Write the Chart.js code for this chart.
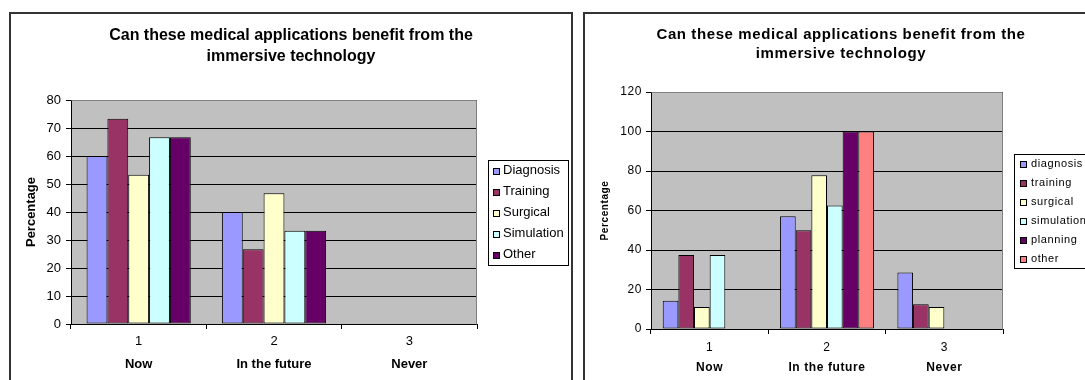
<!DOCTYPE html>
<html>
<head>
<meta charset="utf-8">
<script src="https://cdn.jsdelivr.net/npm/chart.js@4.4.1/dist/chart.umd.min.js"></script>
<style>
  html, body { margin: 0; padding: 0; background: #fff; width: 1085px; height: 380px; overflow: hidden; }
  .frame { position: absolute; border: 2px solid #333; height: 400px; }
  #f1 { left: 9px; top: 12px; width: 560px; }
  #f2 { left: 583px; top: 12px; width: 520px; }
  canvas { position: absolute; left: 0; top: 0; }
</style>
</head>
<body>
<div class="frame" id="f1"><canvas id="chart1" width="560" height="370"></canvas></div>
<div class="frame" id="f2"><canvas id="chart2" width="512" height="370"></canvas></div>
<script>
const title = ['Can these medical applications benefit from the', 'immersive technology'];
const categories = ['1', '2', '3'];
const answers = ['Now', 'In the future', 'Never'];
const colors = ['#9999FF', '#993366', '#FFFFCC', '#CCFFFF', '#660066', '#FF8080'];

// left chart
const seriesLeft = ['Diagnosis', 'Training', 'Surgical', 'Simulation', 'Other'];
const diagnosisL = [60, 40, 0];
const trainingL = [73.3, 26.7, 0];
const surgicalL = [53.3, 46.7, 0];
const simulationL = [66.7, 33.3, 0];
const otherL = [66.7, 33.3, 0];
const colorsLeft = [colors[0], colors[1], colors[2], colors[3], colors[4]];

// right chart
const seriesRight = ['diagnosis', 'training', 'surgical', 'simulation', 'planning', 'other'];
const diagnosisR = [14.3, 57.1, 28.6];
const trainingR = [37.5, 50, 12.5];
const surgicalR = [11.1, 77.8, 11.1];
const simulationR = [37.5, 62.5, 0];
const planningR = [0, 100, 0];
const otherR = [0, 100, 0];

Chart.defaults.font.family = '"Liberation Sans", Arial, sans-serif';
Chart.defaults.color = '#000';

const plotArea = {
  id: 'plotArea',
  beforeDraw(chart) {
    const { ctx, chartArea: a } = chart;
    ctx.save();
    ctx.fillStyle = '#C0C0C0';
    ctx.fillRect(a.left, a.top, a.right - a.left, a.bottom - a.top);
    ctx.restore();
  },
  beforeDatasetsDraw(chart) {
    const { ctx, chartArea: a } = chart;
    const l = Math.round(a.left) + 0.5, t = Math.round(a.top) + 0.5;
    const r = Math.round(a.right) - 0.5, b = Math.round(a.bottom) + 0.5;
    ctx.save();
    ctx.strokeStyle = '#808080';
    ctx.lineWidth = 1;
    ctx.beginPath();
    ctx.moveTo(l, t);
    ctx.lineTo(r, t);
    ctx.lineTo(r, b);
    ctx.stroke();
    ctx.restore();
  }
};

// framed legend like the spreadsheet one
const boxLegend = {
  id: 'boxLegend',
  afterDraw(chart, args, o) {
    const { ctx, chartArea: a } = chart;
    const items = chart.data.datasets;
    const h = items.length * o.rowH;
    const x = Math.round(a.right + o.gap);
    const y = Math.round((a.top + a.bottom) / 2 - h / 2);
    ctx.save();
    ctx.strokeStyle = '#000';
    ctx.lineWidth = 1;
    ctx.strokeRect(x + 0.5, y + 0.5, o.width, h);
    ctx.font = o.font;
    ctx.textBaseline = 'middle';
    ctx.textAlign = 'left';
    items.forEach((ds, i) => {
      const cy = y + o.rowH * (i + 0.5);
      const bx = x + o.boxLeft + 0.5, by = Math.round(cy - o.box / 2) + 0.5;
      ctx.fillStyle = ds.backgroundColor;
      ctx.fillRect(bx, by, o.box, o.box);
      ctx.strokeRect(bx, by, o.box, o.box);
      ctx.fillStyle = '#000';
      ctx.fillText(ds.label, x + o.textLeft, cy);
    });
    ctx.restore();
  }
};

const wideText = {
  id: 'wideText',
  beforeUpdate(chart, args, o) { chart.ctx.letterSpacing = o.spacing; },
  beforeDraw(chart, args, o) { chart.ctx.letterSpacing = o.spacing; }
};

function makeDatasets(names, values, cols) {
  return names.map((name, i) => ({
    label: name,
    data: values[i],
    backgroundColor: cols[i],
    borderColor: '#000',
    borderWidth: 1,
    borderSkipped: false,
    yAxisID: 'y'
  }));
}

function makeOptions(s) {
  return {
    responsive: false,
    animation: false,
    categoryPercentage: s.catPct,
    barPercentage: 1,
    layout: { padding: 0 },
    plugins: {
      legend: { display: false },
      tooltip: { enabled: false },
      title: {
        display: true,
        text: title,
        font: { size: s.titleSize, weight: 'bold', lineHeight: s.titleLine },
        padding: { top: s.titleTop, bottom: s.titleBottom },
        color: '#000'
      },
      boxLegend: s.legend,
      wideText: { spacing: s.spacing }
    },
    scales: {
      y: {
        position: 'left',
        min: 0,
        max: s.yMax,
        ticks: { stepSize: s.yStep, font: { size: s.fontSize }, padding: s.yPad, color: '#000' },
        grid: { color: '#000', lineWidth: 1, tickLength: 5 },
        border: { display: true, color: '#000' },
        title: {
          display: true,
          text: 'Percentage',
          font: { size: s.yTitleSize, weight: 'bold' },
          padding: { top: s.yTitlePad, bottom: 0 }
        },
        afterFit: sc => { sc.width = s.yWidth; }
      },
      pad: {
        type: 'linear',
        position: 'right',
        display: true,
        grid: { display: false, drawTicks: false },
        border: { display: false },
        ticks: { display: false },
        afterFit: sc => { sc.width = s.rightSpace; }
      },
      x: {
        type: 'category',
        labels: categories,
        offset: true,
        weight: 0,
        grid: { offset: true, drawOnChartArea: false, color: '#000', tickLength: 5 },
        border: { display: true, color: '#000' },
        ticks: { font: { size: s.fontSize }, padding: s.xPad, color: '#000' },
        afterFit: sc => { sc.height = s.xHeight; }
      },
      x2: {
        type: 'category',
        labels: answers,
        position: 'bottom',
        offset: true,
        weight: 1,
        grid: { display: false, drawTicks: false },
        border: { display: false },
        ticks: { font: { size: s.fontSize, weight: 'bold' }, padding: s.x2Pad, color: '#000' },
        afterFit: sc => { sc.height = s.x2Height; }
      }
    }
  };
}

new Chart(document.getElementById('chart1'), {
  type: 'bar',
  data: {
    labels: categories,
    datasets: makeDatasets(seriesLeft, [diagnosisL, trainingL, surgicalL, simulationL, otherL], colorsLeft)
  },
  options: makeOptions({
    catPct: 0.77, titleSize: 16, titleLine: 21 / 16, titleTop: 11.5, titleBottom: 32.5,
    yMax: 80, yStep: 10, fontSize: 13, yPad: 5, yTitleSize: 13, yTitlePad: 13, yWidth: 60,
    rightSpace: 94, xPad: 5, xHeight: 30, x2Pad: 3, x2Height: 30, spacing: '0px',
    legend: { gap: 11, width: 80, rowH: 21, box: 6, boxLeft: 5, textLeft: 15, font: '13px "Liberation Sans", Arial, sans-serif' }
  }),
  plugins: [plotArea, boxLegend, wideText]
});

new Chart(document.getElementById('chart2'), {
  type: 'bar',
  data: {
    labels: categories,
    datasets: makeDatasets(seriesRight, [diagnosisR, trainingR, surgicalR, simulationR, planningR, otherR], colors)
  },
  options: makeOptions({
    catPct: 0.8, titleSize: 15, titleLine: 19 / 15, titleTop: 11.5, titleBottom: 28.5,
    yMax: 120, yStep: 20, fontSize: 12, yPad: 4, yTitleSize: 10, yTitlePad: 14.5, yWidth: 66,
    rightSpace: 94, xPad: 6, xHeight: 28, x2Pad: 3, x2Height: 27, spacing: '0.6px',
    legend: { gap: 11, width: 100, rowH: 19, box: 6, boxLeft: 6, textLeft: 17, font: '11px "Liberation Sans", Arial, sans-serif' }
  }),
  plugins: [plotArea, boxLegend, wideText]
});
</script>
</body>
</html>
